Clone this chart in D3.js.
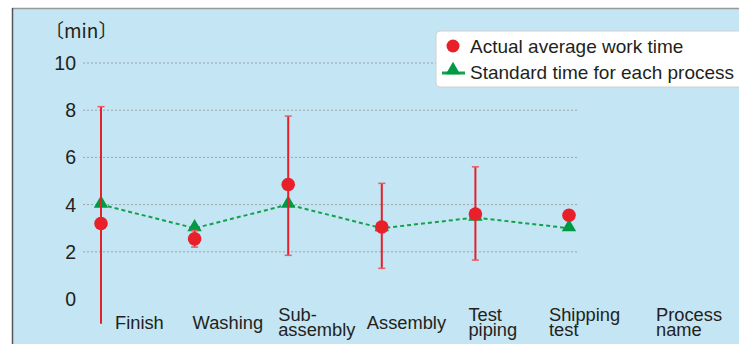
<!DOCTYPE html>
<html>
<head>
<meta charset="utf-8">
<script src="https://cdn.jsdelivr.net/npm/d3@7"></script>
<style>
  body { margin: 0; background: #fff; }
  svg { display: block; font-family: "Liberation Sans", Arial, sans-serif; }
</style>
</head>
<body>
<div id="container"></div>
<script>
/* DATA */
const processes = ["Finish", "Washing", "Sub-assembly", "Assembly", "Test piping", "Shipping test"];
const labelLines = [["Finish"], ["Washing"], ["Sub-", "assembly"], ["Assembly"], ["Test", "piping"], ["Shipping", "test"]];
const actualAvg = [3.2, 2.55, 4.85, 3.05, 3.6, 3.55];
const errHigh = [8.15, 2.9, 7.75, 4.9, 5.6, null];
const errLow = [-1.05, 2.2, 1.85, 1.3, 1.65, null];
const standardTime = [4.0, 3.0, 4.0, 3.0, 3.45, 3.0];
const yTicks = [0, 2, 4, 6, 8, 10];

/* CONSTANTS */
const width = 739, height = 344;
const labelDx = [14, -2, -10, -15, -7, -20];

const svg = d3.select("#container").append("svg")
  .attr("width", width)
  .attr("height", height);

// panel
svg.append("rect")
  .attr("x", 12).attr("y", 8)
  .attr("width", width - 12).attr("height", height - 8)
  .attr("fill", "#c4e5f3");
svg.append("line").attr("x1", 12).attr("x2", width).attr("y1", 8.5).attr("y2", 8.5)
  .attr("stroke", "#999").attr("stroke-width", 1.5);
svg.append("line").attr("x1", 12.5).attr("x2", 12.5).attr("y1", 8).attr("y2", height)
  .attr("stroke", "#555").attr("stroke-width", 1.5);

// SCALES
const x = d3.scalePoint().domain(processes).range([101, 569]);
const y = d3.scaleLinear().domain([0, 10]).range([299, 63]);

// gridlines
svg.selectAll("line.grid")
  .data(yTicks.filter(d => d > 0))
  .join("line")
  .attr("class", "grid")
  .attr("x1", 83).attr("x2", 579)
  .attr("y1", d => y(d)).attr("y2", d => y(d))
  .attr("stroke", "#9aa4aa")
  .attr("stroke-width", 1)
  .attr("stroke-dasharray", "2,2");

// y axis labels
svg.selectAll("text.ytick")
  .data(yTicks)
  .join("text")
  .attr("class", "ytick")
  .attr("x", 76)
  .attr("y", d => y(d))
  .attr("dy", "0.36em")
  .attr("text-anchor", "end")
  .attr("font-size", 19.5)
  .attr("fill", "#231f20")
  .text(d => d);

svg.append("text")
  .attr("x", 45).attr("y", 38)
  .attr("font-size", 19)
  .attr("fill", "#231f20")
  .attr("font-family", "'Noto Sans CJK JP', 'Liberation Sans', sans-serif")
  .text("〔min〕");

// category labels
const catLabels = svg.selectAll("text.cat")
  .data(processes.map((p, i) => ({ p, lines: labelLines[i], dx: labelDx[i] })))
  .join("text")
  .attr("class", "cat")
  .attr("font-size", 18.3)
  .attr("fill", "#231f20")
  .attr("transform", d => `translate(${x(d.p) + d.dx}, ${d.lines.length === 1 ? 329 : 321})`);
catLabels.selectAll("tspan")
  .data(d => d.lines)
  .join("tspan")
  .attr("x", 0)
  .attr("dy", (d, i) => i === 0 ? 0 : 15)
  .text(d => d);

// "Process name" label
const pn = svg.append("text")
  .attr("font-size", 18.3)
  .attr("fill", "#231f20")
  .attr("transform", "translate(656, 321)");
pn.append("tspan").attr("x", 0).text("Process");
pn.append("tspan").attr("x", 0).attr("dy", 15).text("name");

// standard time line
const line = d3.line()
  .x((d, i) => x(processes[i]))
  .y(d => y(d));
svg.append("path")
  .datum(standardTime)
  .attr("d", line)
  .attr("fill", "none")
  .attr("stroke", "#12a24c")
  .attr("stroke-width", 2)
  .attr("stroke-dasharray", "4,3");

const tri = d3.symbol().type(d3.symbolTriangle).size(90);
svg.selectAll("path.std")
  .data(standardTime)
  .join("path")
  .attr("class", "std")
  .attr("d", tri)
  .attr("fill", "#009a44")
  .attr("transform", (d, i) => `translate(${x(processes[i])}, ${y(d) - 1})`);

// error bars
const errData = processes.map((p, i) => ({ p, hi: errHigh[i], lo: errLow[i] }))
  .filter(d => d.hi !== null);
svg.selectAll("line.err")
  .data(errData)
  .join("line")
  .attr("class", "err")
  .attr("x1", d => x(d.p)).attr("x2", d => x(d.p))
  .attr("y1", d => y(d.hi)).attr("y2", d => y(d.lo))
  .attr("stroke", "#e6202a")
  .attr("stroke-width", 2);
const caps = errData.flatMap(d => [{ p: d.p, v: d.hi }].concat(d.lo >= 0 ? [{ p: d.p, v: d.lo }] : []));
svg.selectAll("line.cap")
  .data(caps)
  .join("line")
  .attr("class", "cap")
  .attr("x1", d => x(d.p) - 3.5).attr("x2", d => x(d.p) + 3.5)
  .attr("y1", d => y(d.v)).attr("y2", d => y(d.v))
  .attr("stroke", "#ea5a62")
  .attr("stroke-width", 1.5);

// actual average circles
svg.selectAll("circle.actual")
  .data(actualAvg)
  .join("circle")
  .attr("class", "actual")
  .attr("cx", (d, i) => x(processes[i]))
  .attr("cy", d => y(d))
  .attr("r", 6.8)
  .attr("fill", "#e8202a");

// legend
const lg = svg.append("g").attr("transform", "translate(436, 31)");
lg.append("rect")
  .attr("x", 0).attr("y", 0)
  .attr("width", 320).attr("height", 56)
  .attr("rx", 4)
  .attr("fill", "#fff")
  .attr("stroke", "#d0d0d0");
lg.append("circle").attr("cx", 17).attr("cy", 15).attr("r", 6.5).attr("fill", "#e8202a");
lg.append("text").attr("x", 34).attr("y", 21.5).attr("font-size", 19).attr("fill", "#231f20")
  .text("Actual average work time");
lg.append("line").attr("x1", 6).attr("x2", 29).attr("y1", 42).attr("y2", 42)
  .attr("stroke", "#12a24c").attr("stroke-width", 3);
lg.append("path").attr("d", tri).attr("fill", "#009a44").attr("transform", "translate(17, 39)");
lg.append("text").attr("x", 34).attr("y", 48).attr("font-size", 19).attr("fill", "#231f20")
  .text("Standard time for each process");
</script>
</body>
</html>
